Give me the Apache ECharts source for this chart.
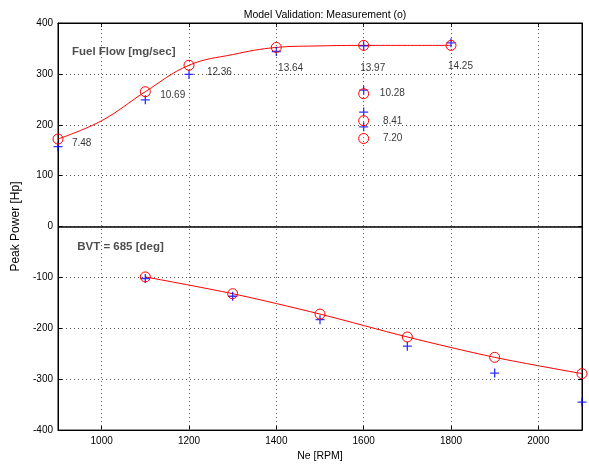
<!DOCTYPE html>
<html><head><meta charset="utf-8">
<script src="https://cdn.jsdelivr.net/npm/echarts@6/dist/echarts.min.js"></script>
<style>html,body{margin:0;padding:0;background:#fff}#c{width:589px;height:467px}</style>
</head><body><div id="c"></div>
<script>
// Upper panel: fuel flow sweep (Peak Power positive)
const topRpm      = [900, 1100, 1200, 1400, 1600, 1800];
const topMeas     = [172, 265, 317, 352, 356, 356];
const topModel    = [157, 249, 299, 344, 355, 361];
// extra points at 1600 rpm
const extraRpm    = [1600, 1600, 1600];
const extraMeas   = [261, 208, 173];
const extraModel  = [268, 225, 196];
// fitted curve (upper)
const topCurveRpm = [900, 1000, 1100, 1200, 1300, 1400, 1500, 1600, 1700, 1800];
const topCurveVal = [172, 208, 265, 317, 338, 352, 355, 356, 356, 356];
// Lower panel: BVT = 685 deg (negative values)
const botRpm      = [1100, 1300, 1500, 1700, 1900, 2100];
const botMeas     = [-99, -132, -172, -217, -257, -289];
const botModel    = [-102, -137, -183, -235, -288, -345];
// annotation labels (fuel flow values) with positions in data units
const annText = ['7.48', '10.69', '12.36', '13.64', '13.97', '14.25', '10.28', '8.41', '7.20'];
const annX    = [932, 1134, 1241, 1404, 1592, 1793, 1637, 1644, 1644];
const annY    = [164, 259, 303, 311, 311, 315, 261, 206, 173];
const panelText = ['Fuel Flow [mg/sec]', 'BVT = 685 [deg]'];
const panelX    = [932, 944];
const panelY    = [344, -40];
const xTicks = [1000, 1200, 1400, 1600, 1800, 2000];

const F = 'Liberation Sans, Arial, Helvetica, sans-serif';
const cross = 'path://M4,0h1.4v4h4v1.4h-4v4h-1.4v-4h-4v-1.4h4z';
const zip = (a, b) => a.map((v, i) => [v, b[i]]);

const chart = echarts.init(document.getElementById('c'), null, {renderer: 'canvas'});
chart.setOption({
  animation: false,
  backgroundColor: '#fff',
  title: {text: 'Model Validation: Measurement (o)', left: 320, top: 5, textAlign: 'center',
    textStyle: {fontFamily: F, fontSize: 10.5, fontWeight: 'normal', color: '#000'}},
  grid: {left: 58, right: 7, top: 23, bottom: 31, show: true, borderColor: '#000', borderWidth: 1},
  xAxis: [{
    type: 'value', min: 900, max: 2100, interval: 100, position: 'bottom',
    name: 'Ne [RPM]', nameLocation: 'middle', nameGap: 20,
    nameTextStyle: {fontFamily: F, fontSize: 10.5, color: '#000'},
    axisLine: {show: true, onZero: false, lineStyle: {color: '#000'}},
    axisTick: {show: true, inside: true, length: 4, lineStyle: {color: '#000'},
      customValues: xTicks},
    axisLabel: {fontFamily: F, fontSize: 10, color: '#000', margin: 6, customValues: xTicks,
      formatter: v => String(v)},
    splitLine: {show: false}
  }, {
    type: 'value', min: 900, max: 2100, position: 'top',
    axisLine: {show: true, onZero: false, lineStyle: {color: '#000'}},
    axisTick: {show: true, inside: true, length: 4, lineStyle: {color: '#000'}, customValues: xTicks},
    axisLabel: {show: false},
    splitLine: {show: false}
  }],
  yAxis: [{
    type: 'value', min: -400, max: 400, interval: 100,
    name: 'Peak Power [Hp]', nameLocation: 'middle', nameGap: 31,
    nameTextStyle: {fontFamily: F, fontSize: 12, color: '#000'},
    axisLine: {show: true, onZero: false, lineStyle: {color: '#000'}},
    axisTick: {show: true, inside: true, length: 4, lineStyle: {color: '#000'}},
    axisLabel: {fontFamily: F, fontSize: 10, color: '#000', margin: 5},
    splitLine: {show: true, lineStyle: {color: '#555', type: [1, 3], width: 1}}
  }, {
    type: 'value', min: -400, max: 400, interval: 100, position: 'right',
    axisLine: {show: true, onZero: false, lineStyle: {color: '#000'}},
    axisTick: {show: true, inside: true, length: 4, lineStyle: {color: '#000'}},
    axisLabel: {show: false},
    splitLine: {show: false}
  }],
  series: [
    {type: 'line', data: [], markLine: {silent: true, symbol: 'none', label: {show: false},
      lineStyle: {color: '#555', type: [1, 3], width: 1},
      data: xTicks.map(v => ({xAxis: v}))}},
    {type: 'line', data: [], markLine: {silent: true, symbol: 'none', label: {show: false},
      lineStyle: {color: '#000', type: 'solid', width: 1.5},
      data: [{yAxis: 0}]}},
    {type: 'line', smooth: 0.4, showSymbol: false, data: zip(topCurveRpm, topCurveVal),
      lineStyle: {color: '#f00', width: 1}, z: 3},
    {type: 'line', smooth: 0.3, showSymbol: false, data: zip(botRpm, botMeas),
      lineStyle: {color: '#f00', width: 1}, z: 3},
    {type: 'scatter', symbol: cross, symbolSize: 9, itemStyle: {color: '#00f'}, z: 4,
      data: zip(topRpm, topModel).concat(zip(extraRpm, extraModel)).concat(zip(botRpm, botModel))},
    {type: 'scatter', symbol: 'circle', symbolSize: 10, z: 5,
      itemStyle: {color: 'rgba(0,0,0,0)', borderColor: '#f00', borderWidth: 1, opacity: 1},
      data: zip(topRpm, topMeas).concat(zip(extraRpm, extraMeas)).concat(zip(botRpm, botMeas))},
    {type: 'scatter', symbolSize: 0, z: 6, silent: true,
      data: annText.map((t, i) => ({value: [annX[i], annY[i]], name: t})),
      label: {show: true, position: 'inside', align: 'left', formatter: p => p.name,
        fontFamily: F, fontSize: 10, color: '#000'}},
    {type: 'scatter', symbolSize: 0, z: 6, silent: true,
      data: panelText.map((t, i) => ({value: [panelX[i], panelY[i]], name: t})),
      label: {show: true, position: 'inside', align: 'left', formatter: p => p.name,
        fontFamily: F, fontSize: 11.5, fontWeight: 'bold', color: '#222'}}
  ]
});
</script></body></html>
